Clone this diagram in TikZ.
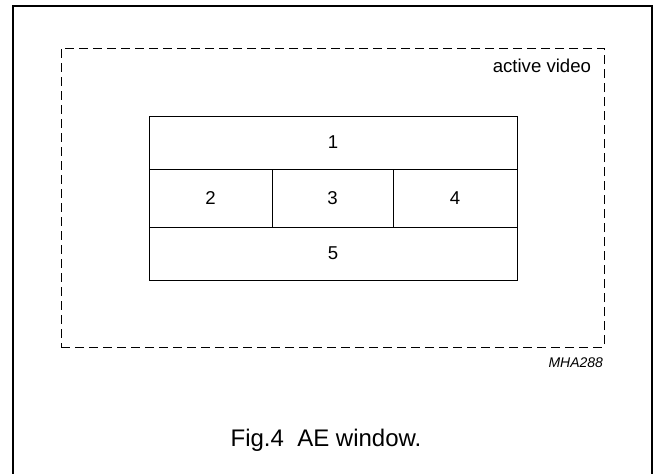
\documentclass[tikz,border=0pt]{standalone}
\usepackage{fontspec}
\setmainfont{Liberation Sans}
\usetikzlibrary{positioning}

\tikzset{
  cell/.style={draw, line width=0.5pt, inner sep=0pt, outer sep=0pt, font=\fontsize{9.3}{11}\selectfont},
  videobox/.style={draw, dashed, dash pattern=on 4.5pt off 2.5pt, line width=0.5pt, inner sep=0pt, outer sep=0pt},
  label text/.style={inner sep=0pt, outer sep=0pt},
}

\begin{document}
\begin{tikzpicture}[x=0.5pt,y=-0.5pt]
\useasboundingbox (0,0) rectangle (655,473);
% frame, open at the bottom
\draw[line width=1pt] (13,480) -- (13,6) -- (652,6) -- (652,480);

\node[videobox, minimum width=271.5pt, minimum height=149.5pt] (video) at (332.5,197.5) {};
\node[label text, anchor=base east, font=\fontsize{9.3}{11}\selectfont] (vlabel) at (591,72.5) {active video};

    % AE window cells
    \node[cell, minimum width=184pt, minimum height=26.5pt] (c1) at (333,142.5) {1};
    \node[cell, minimum width=61.5pt, minimum height=29pt] (c2) [below right=0pt and 0pt of c1.south west] {2};
    \node[cell, minimum width=60.5pt, minimum height=29pt] (c3) [right=0pt of c2] {3};
    \node[cell, minimum width=62pt, minimum height=29pt] (c4) [right=0pt of c3] {4};
    \node[cell, minimum width=184pt, minimum height=26.5pt] (c5) [below right=0pt and 0pt of c2.south west] {5};

\node[label text, anchor=base east, font=\fontsize{7}{8}\selectfont\itshape] (code) at (603,367) {MHA288};
\node[label text, anchor=base, font=\fontsize{12}{14}\selectfont] (caption) at (326,446) {Fig.4\ \ AE window.};

\end{tikzpicture}
\end{document}
